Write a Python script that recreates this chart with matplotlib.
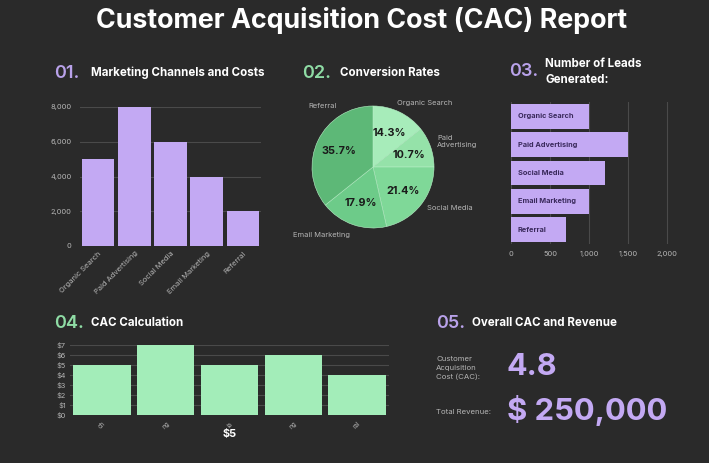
import matplotlib
matplotlib.use("Agg")
import matplotlib.pyplot as plt
import numpy as np

plt.rcParams['font.family'] = ['Inter', 'DejaVu Sans']

# ---------------- data ----------------
channels = ["Organic Search", "Paid Advertising", "Social Media", "Email Marketing", "Referral"]
costs = [5000, 8000, 6000, 4000, 2000]
conv_values = [4, 3, 6, 5, 10]
leads = [1000, 1500, 1200, 1000, 700]
cac_values = [5, 7, 5, 6, 4]
cac_tick_fragments = ["ch", "ng", "ia", "ng", "ral"]
cost_ticks = [0, 2000, 4000, 6000, 8000]
lead_ticks = [0, 500, 1000, 1500, 2000]
cac_ticks = [0, 1, 2, 3, 4, 5, 6, 7]
overall_cac = "4.8"
total_revenue = "$ 250,000"

W, H = 709, 463
BG = "#2a2a2a"
PURPLE = "#c3a9f3"
PURPLE_T = "#b9a2ea"
GREEN = "#a3edb9"
GREEN_T = "#8fdca5"
GRID = "#4a4a4a"
TICK = "#b5b5b5"
pie_colors = ["#a7ecba", "#95e2a9", "#7fd898", "#6dcb89", "#5db877"]

fig = plt.figure(figsize=(W / 100, H / 100), dpi=100, facecolor=BG)

def px_axes(x0, y0, x1, y1):
    return fig.add_axes([x0 / W, 1 - y1 / H, (x1 - x0) / W, (y1 - y0) / H])

def ftext(x, y, s, **kw):
    fig.text(x / W, 1 - y / H, s, **kw)

def style(ax):
    ax.set_facecolor(BG)
    for sp in ax.spines.values():
        sp.set_visible(False)
    ax.tick_params(colors=TICK, length=0, labelsize=5.4)

# title
ftext(362, 21, "Customer Acquisition Cost (CAC) Report", ha="center", va="center",
      color="white", fontsize=19.3, fontweight="bold")

# section headers
def header(x, y, num, col, title, tx, ls=1.2):
    ftext(x, y, num, color=col, fontsize=13, fontweight="semibold", va="center")
    ftext(tx, y, title, color="white", fontsize=8.3, fontweight="bold", va="center",
          linespacing=ls)

header(54, 73, "01.", PURPLE_T, "Marketing Channels and Costs", 91)
header(302, 73, "02.", GREEN_T, "Conversion Rates", 340)
header(509, 72, "03.", PURPLE_T, "Number of Leads\nGenerated:", 545, ls=1.45)
header(54, 323, "04.", GREEN_T, "CAC Calculation", 91)
header(436, 323, "05.", PURPLE_T, "Overall CAC and Revenue", 472)

# ---- 01 bar chart ----
ax1 = px_axes(80, 107, 261, 246)
style(ax1)
x = np.arange(len(channels))
ax1.bar(x, costs, width=0.9, color=PURPLE, zorder=3)
ax1.set_ylim(0, 8000)
ax1.set_xlim(-0.5, len(channels) - 0.5)
ax1.set_yticks(cost_ticks)
ax1.set_yticklabels([f"{v:,}" for v in cost_ticks])
ax1.yaxis.grid(True, color=GRID, linewidth=0.8, zorder=0)
ax1.set_xticks(x)
ax1.set_xticklabels(channels, rotation=45, ha="right", rotation_mode="anchor")
ax1.tick_params(axis="x", pad=3)
ax1.tick_params(axis="y", pad=6)

# ---- 02 pie ----
ax2 = px_axes(312, 106, 434, 228)
ax2.set_facecolor(BG)
wedges, texts, autotexts = ax2.pie(
    conv_values, labels=channels, colors=pie_colors, startangle=90, counterclock=False,
    autopct="%1.1f%%", pctdistance=0.62, labeldistance=1.15,
    wedgeprops=dict(edgecolor="#b5efc5", linewidth=0.4),
    textprops=dict(color=TICK, fontsize=5.4))
for t in autotexts:
    t.set_color("#1a1a1a")
    t.set_fontsize(7.8)
    t.set_fontweight("bold")
label_pos = {"Organic Search": (0.85, 1.05, "center"),
             "Paid Advertising": (1.05, 0.42, "left"),
             "Social Media": (0.88, -0.68, "left"),
             "Email Marketing": (-0.84, -1.12, "center"),
             "Referral": (-0.82, 1.0, "center")}
for t in texts:
    px, py, ha = label_pos[t.get_text()]
    if t.get_text() == "Paid Advertising":
        t.set_text("Paid\nAdvertising")
    t.set_position((px, py))
    t.set_ha(ha)
    t.set_va("center")
ax2.set_xlim(-1, 1)
ax2.set_ylim(-1, 1)
ax2.set_aspect("equal")

# ---- 03 horizontal bars ----
ax3 = px_axes(511, 102, 683, 244)
style(ax3)
y = np.arange(len(channels))
ax3.barh(y, leads, height=0.88, color=PURPLE, zorder=3)
ax3.set_ylim(len(channels) - 0.5, -0.5)
ax3.set_xlim(0, 2200)
ax3.set_xticks(lead_ticks)
ax3.set_xticklabels([f"{v:,}" for v in lead_ticks])
ax3.set_yticks([])
ax3.xaxis.grid(True, color=GRID, linewidth=0.8, zorder=0)
ax3.tick_params(axis="x", pad=5)
for i, name in enumerate(channels):
    ax3.annotate(name, xy=(0, i), xytext=(5, 0), textcoords="offset points",
                 ha="left", va="center", color="#3a2a5c", fontsize=5.3,
                 fontweight="bold", zorder=4)

# ---- 04 CAC bars ----
ax4 = px_axes(70, 345, 389, 415)
style(ax4)
ax4.bar(x, cac_values, width=0.9, color=GREEN, zorder=3)
ax4.set_ylim(0, 7)
ax4.set_xlim(-0.5, len(channels) - 0.5)
ax4.set_yticks(cac_ticks)
ax4.set_yticklabels([f"${v}" for v in cac_ticks])
ax4.yaxis.grid(True, color=GRID, linewidth=0.8, zorder=0)
ax4.set_xticks(x)
ax4.set_xticklabels(cac_tick_fragments, rotation=45, ha="center", fontsize=4.5)
ax4.tick_params(axis="x", pad=4)
ax4.tick_params(axis="y", labelsize=5.3, pad=3)
ax4.set_xlabel("$5", color="white", fontsize=7.8, fontweight="bold", labelpad=-1)

# ---- 05 overall ----
ftext(436, 368, "Customer\nAcquisition\nCost (CAC):", color=TICK, fontsize=5.6,
      va="center", linespacing=1.6)
ftext(507, 367, overall_cac, color=PURPLE, fontsize=22, fontweight="bold", va="center")
ftext(436, 412, "Total Revenue:", color=TICK, fontsize=5.6, va="center")
ftext(507, 410, total_revenue, color=PURPLE, fontsize=22.3, fontweight="bold", va="center")

fig.savefig("out.png", dpi=100, facecolor=BG)
